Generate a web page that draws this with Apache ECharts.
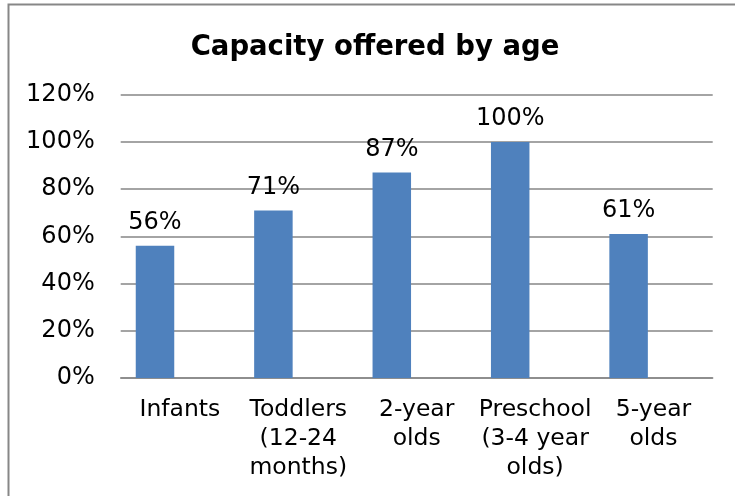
<!DOCTYPE html>
<html>
<head>
<meta charset="utf-8">
<script src="https://cdn.jsdelivr.net/npm/echarts@6/dist/echarts.min.js"></script>
<style>
  html, body { margin: 0; padding: 0; background: #fff; }
  #chart { width: 735px; height: 496px; }
</style>
</head>
<body>
<div id="chart"></div>
<script>
// Capacity offered by age group, in percent
const chartTitle = 'Capacity offered by age';
const ageGroups = ['Infants', 'Toddlers\n(12-24\nmonths)', '2-year\nolds', 'Preschool\n(3-4 year\nolds)', '5-year\nolds'];
const capacityPct = [56, 71, 87, 100, 61];
const yMin = 0;
const yMax = 120;
const yStep = 20;

const textFont = 'DejaVu Sans';
const barColor = '#4F81BD';
const gridColor = '#868686';

const chart = echarts.init(document.getElementById('chart'), null, { renderer: 'canvas' });

chart.setOption({
  animation: false,
  backgroundColor: '#ffffff',
  title: {
    text: chartTitle,
    left: 375,
    top: 34,
    padding: 0,
    textAlign: 'center',
    textStyle: { fontFamily: textFont, fontWeight: 'bold', fontSize: 27.5, color: '#000' }
  },
  graphic: [{
    type: 'rect',
    shape: { x: 8.5, y: 4.5, width: 740, height: 500 },
    style: { fill: 'none', stroke: '#878787', lineWidth: 2 },
    silent: true
  }],
  grid: [
    // axis frame: gridlines, value labels and category labels
    { left: 120.7, width: 592, top: 94.7, height: 283.3 },
    // bar layer
    { left: 95.8, width: 592, top: 94.7, height: 283.3 }
  ],
  xAxis: [
    {
      type: 'category', gridIndex: 0, data: ageGroups,
      axisLine: { lineStyle: { color: gridColor, width: 1.5 } },
      axisTick: { show: false },
      axisLabel: {
        interval: 0, margin: 17, color: '#000',
        fontFamily: textFont, fontSize: 23.5, lineHeight: 29, align: 'center'
      }
    },
    {
      type: 'category', gridIndex: 1, data: ageGroups,
      axisLine: { show: false }, axisTick: { show: false }, axisLabel: { show: false }
    }
  ],
  yAxis: [
    {
      type: 'value', gridIndex: 0, min: yMin, max: yMax, interval: yStep,
      axisLine: { show: false }, axisTick: { show: false },
      splitLine: { lineStyle: { color: gridColor, width: 1.5 } },
      axisLabel: { formatter: '{value}%', margin: 26, color: '#000', fontFamily: textFont, fontSize: 24 }
    },
    {
      type: 'value', gridIndex: 1, min: yMin, max: yMax, interval: yStep,
      axisLine: { show: false }, axisTick: { show: false },
      splitLine: { show: false }, axisLabel: { show: false }
    }
  ],
  series: [{
    type: 'bar',
    xAxisIndex: 1,
    yAxisIndex: 1,
    data: capacityPct,
    barWidth: 38.5,
    itemStyle: { color: barColor },
    label: {
      show: true, position: 'top', distance: 11,
      formatter: '{c}%', color: '#000', fontFamily: textFont, fontSize: 24
    }
  }]
});
</script>
</body>
</html>
